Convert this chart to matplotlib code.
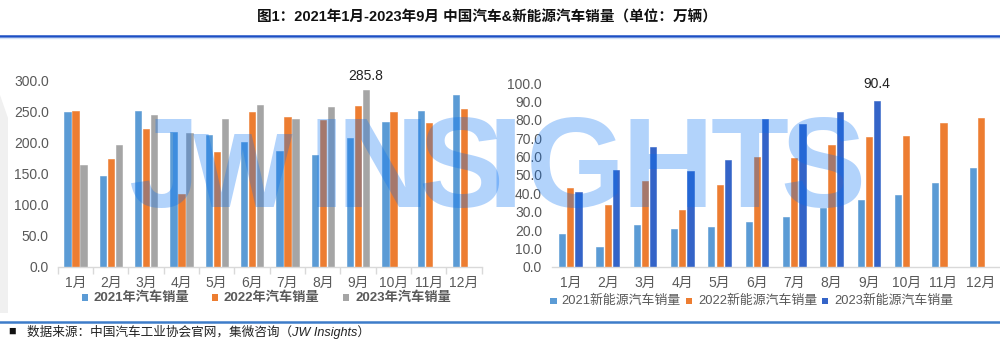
import numpy as np
import matplotlib
matplotlib.use('Agg')
import matplotlib.pyplot as plt
from matplotlib.patches import Polygon, Rectangle
from matplotlib.lines import Line2D

plt.rcParams['font.family'] = ['Liberation Sans', 'Noto Sans CJK SC', 'DejaVu Sans']
plt.rcParams['axes.unicode_minus'] = False

months = ['1月', '2月', '3月', '4月', '5月', '6月', '7月', '8月', '9月', '10月', '11月', '12月']

# 汽车销量（万辆）
car_2021 = [249.5, 145.5, 251.5, 218.0, 212.0, 201.5, 186.0, 180.0, 207.0, 233.0, 251.0, 277.0]
car_2022 = [251.0, 173.0, 222.0, 117.5, 185.0, 249.0, 241.0, 237.0, 260.0, 249.5, 232.0, 254.0]
car_2023 = [164.5, 196.5, 245.0, 215.0, 237.5, 261.0, 238.0, 257.0, 285.8]

# 新能源汽车销量（万辆）
nev_2021 = [18.0, 10.9, 22.6, 20.4, 21.8, 24.5, 27.1, 32.2, 36.2, 39.1, 45.5, 53.7]
nev_2022 = [43.1, 33.5, 46.6, 30.9, 44.7, 59.7, 59.3, 66.2, 70.6, 71.1, 78.4, 81.1]
nev_2023 = [40.6, 52.6, 65.3, 52.2, 58.0, 80.4, 77.8, 84.2, 90.4]

car_labels = ['2021年汽车销量', '2022年汽车销量', '2023年汽车销量']
nev_labels = ['2021新能源汽车销量', '2022新能源汽车销量', '2023新能源汽车销量']

title = '图1：2021年1月-2023年9月 中国汽车&新能源汽车销量（单位：万辆）'
source = '数据来源：中国汽车工业协会官网，集微咨询（JW Insights）'

blue, orange, grey, dblue = '#5B9BD5', '#ED7D31', '#A5A5A5', '#3464C8'
txt = '#595959'

W, H = 1000, 341
fig = plt.figure(figsize=(10, 3.41), dpi=100)


def box(x0, y0, x1, y1):
    # pixel box (top-left origin) -> figure fraction rect
    return [x0 / W, 1 - y1 / H, (x1 - x0) / W, (y1 - y0) / H]


def draw_bars(ax, series, colors, width, step):
    x = np.arange(len(months))
    for k, (vals, c) in enumerate(zip(series, colors)):
        xs = x[:len(vals)] + (k - 1) * step
        ax.bar(xs, vals, width, color=c, edgecolor=c, linewidth=0.4)


def style(ax, ymax, ystep):
    ax.set_xlim(-0.5, 11.5)
    ax.set_ylim(0, ymax)
    for s in ['top', 'right', 'left']:
        ax.spines[s].set_visible(False)
    ax.spines['bottom'].set_color('#d9d9d9')
    ax.spines['bottom'].set_linewidth(1)
    ax.set_xticks(np.arange(12))
    ax.set_xticklabels(months)
    ax.set_yticks(np.arange(0, ymax + 0.1, ystep))
    ax.set_yticklabels([f'{v:.1f}' for v in np.arange(0, ymax + 0.1, ystep)])
    ax.tick_params(axis='x', length=0, pad=7, labelsize=10, labelcolor=txt)
    ax.tick_params(axis='y', length=0, pad=6.5, labelsize=10, labelcolor=txt)
    ax.patch.set_alpha(0)


def legend_row(colors, labels, sq_x, txt_x, yc, size, weight):
    # 手工图例：小方块 + 文字
    for c, lab, sx, tx in zip(colors, labels, sq_x, txt_x):
        fig.add_artist(Rectangle((sx / W, 1 - (yc + 3.3) / H), 6.6 / W, 6.6 / H,
                                 facecolor=c, edgecolor='none'))
        fig.text(tx / W, 1 - yc / H, lab, ha='left', va='center', fontsize=size,
                 fontweight=weight, color=txt)


# 左图：汽车销量
ax1 = fig.add_axes(box(57.7, 80.7, 481.7, 266.7))
draw_bars(ax1, [car_2021, car_2022, car_2023], [blue, orange, grey], 0.18, 0.226)
style(ax1, 300, 50)
ax1.set_xticks(np.arange(-0.5, 12, 1), minor=True)
ax1.tick_params(axis='x', which='minor', length=5, color='#d9d9d9', width=1)
ax1.annotate(f'{car_2023[8]}', (8 + 0.226, car_2023[8]), xytext=(0, 5),
             textcoords='offset points', ha='center', va='bottom',
             fontsize=10, color='#222222', annotation_clip=False)

# 右图：新能源汽车销量
ax2 = fig.add_axes(box(551.7, 83.3, 999.5, 266.7))
draw_bars(ax2, [nev_2021, nev_2022, nev_2023], [blue, orange, dblue], 0.165, 0.22)
style(ax2, 100, 10)
ax2.tick_params(axis='y', pad=7)
ax2.annotate(f'{nev_2023[8]}', (8 + 0.22, nev_2023[8]), xytext=(0, 7),
             textcoords='offset points', ha='center', va='bottom',
             fontsize=10, color='#222222', annotation_clip=False)

# 图例
legend_row([blue, orange, grey], car_labels, [81.7, 211.7, 342.7], [93.3, 223, 355],
           297.3, 9.5, 'bold')
legend_row([blue, orange, dblue], nev_labels, [550, 685.7, 821.7], [561.7, 698, 834],
           301, 9.3, 'normal')

# 标题与分隔线
fig.text(0.487, 1 - 17 / H, title, ha='center', va='center', fontsize=10.5,
         fontweight='bold', color='#111111')
fig.add_artist(Line2D([0, 1], [1 - 35.7 / H] * 2, color='#1c4fc4', lw=1.8))
fig.add_artist(Line2D([0, 1], [1 - 37.8 / H] * 2, color='#d3e2f6', lw=1))
fig.add_artist(Line2D([0, 1], [1 - 321.7 / H] * 2, color='#3d7cc9', lw=1.8))

# 左侧浅灰装饰
fig.add_artist(Polygon([(0, 1 - 95 / H), (8 / W, 1 - 118 / H), (8 / W, 1 - 313 / H), (0, 1 - 313 / H)],
                       closed=True, facecolor='#f0f0f0', edgecolor='none', zorder=-1))

# 数据来源
fig.text(0.0085, 1 - 331.7 / H, '■', ha='left', va='center', fontsize=9, color='#111111')
fig.text(0.027, 1 - 331.7 / H, source, ha='left', va='center', fontsize=9.1,
         style='italic', color='#222222')

# 水印
wm_letters = ['J', 'W', 'I', 'N', 'S', 'I', 'G', 'H', 'T', 'S']
wm_centers = [164, 243, 326, 383, 461, 505, 575, 668, 750, 823]
wm_sizes = [92, 76, 92, 92, 92, 92, 92, 92, 92, 92]
for ch, cx, fs in zip(wm_letters, wm_centers, wm_sizes):
    fig.text(cx / W, 1 - 207 / H, ch, ha='center', va='baseline', fontsize=fs,
             fontweight='bold', family='Liberation Sans', color=(0.0, 0.43, 0.96),
             alpha=0.3, zorder=10)

fig.savefig('out.png', dpi=100)
